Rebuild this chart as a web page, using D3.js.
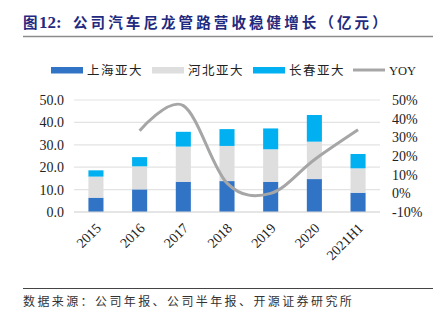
<!DOCTYPE html>
<html><head><meta charset="utf-8">
<script src="https://cdn.jsdelivr.net/npm/d3@7"></script>
<style>
body{margin:0;background:#fff;}
svg{display:block;}
</style></head>
<body>
<svg id="c" width="440" height="324"></svg>
<script>
const categories = ["2015","2016","2017","2018","2019","2020","2021H1"];
const shanghai = [6.4, 10.1, 13.5, 13.8, 13.5, 14.7, 8.6];
const hebei    = [9.4, 10.3, 15.7, 15.7, 14.5, 16.7, 10.9];
const changchun= [2.8, 4.1, 6.6, 7.5, 9.3, 11.9, 6.4];
const yoy      = [null, 33.5, 47, 5.5, 0, 18, 34];
const seriesNames = ["上海亚大","河北亚大","长春亚大"];
const leftTicks = [0,10,20,30,40,50];
const rightTicks = [-10,0,10,20,30,40,50];
const colors = ["#3174c6","#dedede","#00b0f0"];
const lineColor = "#a6a6a6";

const svg = d3.select("#c");
const serif = "'Liberation Serif','Times New Roman',serif";
const cjk = "'Noto Sans CJK SC','Noto Sans',sans-serif";

// title
const titleColor = "#1f2a80";
svg.append("text").attr("x",23).attr("y",28)
  .attr("font-family",cjk).attr("font-weight","bold").attr("font-size",14.5)
  .attr("fill",titleColor).text("图");
svg.append("text").attr("x",39).attr("y",28)
  .attr("font-family",serif).attr("font-weight","bold").attr("font-size",17)
  .attr("fill",titleColor).text("12:");
svg.append("text").attr("x",73).attr("y",28)
  .attr("font-family",cjk).attr("font-weight","bold").attr("font-size",14.5)
  .attr("fill",titleColor).attr("letter-spacing",3.1)
  .text("公司汽车尼龙管路营收稳健增长（亿元）");
svg.append("line").attr("x1",23).attr("x2",433).attr("y1",36.5).attr("y2",36.5)
  .attr("stroke","#8c8c8c").attr("stroke-width",1.5);

const x = d3.scaleBand().domain(categories).range([74,380]).paddingInner(0.655).paddingOuter(0.33);
const y = d3.scaleLinear().domain([0,50]).range([212,100]);
const y2 = d3.scaleLinear().domain([-10,50]).range([212,100]);

// gridlines
svg.append("g").selectAll("line").data(leftTicks).join("line")
  .attr("x1",74).attr("x2",380).attr("y1",d=>y(d)).attr("y2",d=>y(d))
  .attr("stroke","#e3e3e3").attr("stroke-width",1.2);

// left axis
const la = svg.append("g").attr("transform","translate(74,0)")
  .call(d3.axisLeft(y).tickValues(leftTicks).tickFormat(d3.format(".1f")).tickSize(0).tickPadding(10));
la.select(".domain").remove();
la.selectAll("text").attr("font-family",serif).attr("font-size",14).attr("fill","#222");

// right axis
const ra = svg.append("g").attr("transform","translate(380,0)")
  .call(d3.axisRight(y2).tickValues(rightTicks).tickFormat(d=>d+"%").tickSize(0).tickPadding(12));
ra.select(".domain").remove();
ra.selectAll("text").attr("font-family",serif).attr("font-size",14).attr("fill","#222");

// stacked bars
const table = categories.map((c,i)=>({cat:c, s0:shanghai[i], s1:hebei[i], s2:changchun[i]}));
const stack = d3.stack().keys(["s0","s1","s2"])(table);
svg.append("g").selectAll("g").data(stack).join("g").attr("fill",(d,i)=>colors[i])
  .selectAll("rect").data(d=>d).join("rect")
  .attr("x",d=>x(d.data.cat)).attr("width",x.bandwidth())
  .attr("y",d=>y(d[1])).attr("height",d=>y(d[0])-y(d[1]));

// baseline
svg.append("line").attr("x1",74).attr("x2",380).attr("y1",212).attr("y2",212)
  .attr("stroke","#d9d9d9").attr("stroke-width",1.2);

// x labels
const xa = svg.append("g").attr("transform","translate(0,212)")
  .call(d3.axisBottom(x).tickSize(0).tickPadding(0));
xa.select(".domain").remove();
xa.selectAll("text").attr("font-family",serif).attr("font-size",14).attr("fill","#222")
  .attr("text-anchor","end").attr("dy",0)
  .attr("transform","translate(6,17) rotate(-45)");

// yoy line
const pts = categories.map((c,i)=>({c, v:yoy[i]})).filter(d=>d.v!==null);
svg.append("path").datum(pts)
  .attr("fill","none").attr("stroke",lineColor).attr("stroke-width",3)
  .attr("d", d3.line().x(d=>x(d.c)+x.bandwidth()/2).y(d=>y2(d.v)).curve(d3.curveCatmullRom.alpha(0)));

// legend
const leg = [
  {name:seriesNames[0], color:colors[0], type:"rect", x:51},
  {name:seriesNames[1], color:colors[1], type:"rect", x:152},
  {name:seriesNames[2], color:colors[2], type:"rect", x:253},
  {name:"YOY", color:lineColor, type:"line", x:353}
];
const lg = svg.append("g");
leg.forEach(l=>{
  if(l.type==="rect") lg.append("rect").attr("x",l.x).attr("y",67).attr("width",32).attr("height",6.5).attr("fill",l.color);
  else lg.append("line").attr("x1",l.x).attr("x2",l.x+32).attr("y1",70).attr("y2",70).attr("stroke",l.color).attr("stroke-width",3);
  lg.append("text").attr("x",l.x+36).attr("y",74.5)
    .attr("font-family", l.type==="line"?serif:cjk).attr("font-size",12.5).attr("fill","#222")
    .attr("letter-spacing", l.type==="line"?0:1.5)
    .text(l.name);
});

// footer
svg.append("line").attr("x1",23).attr("x2",433).attr("y1",288.5).attr("y2",288.5)
  .attr("stroke","#444").attr("stroke-width",1);
svg.append("text").attr("x",23).attr("y",306)
  .attr("font-family",cjk).attr("font-size",12).attr("fill","#333").attr("letter-spacing",2.4)
  .text("数据来源：公司年报、公司半年报、开源证券研究所");
</script>
</body></html>
